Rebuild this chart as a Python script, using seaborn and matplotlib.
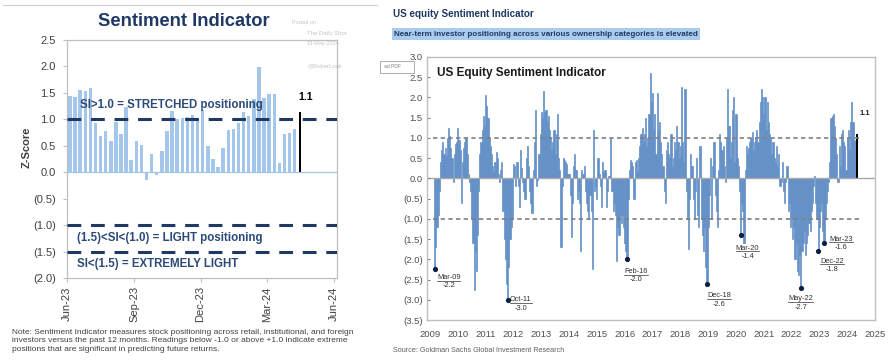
import numpy as np
import pandas as pd
import matplotlib
matplotlib.use("Agg")
import matplotlib.pyplot as plt
import matplotlib.dates as mdates
from matplotlib import font_manager as fm
from matplotlib.lines import Line2D
from matplotlib.patches import Rectangle
import seaborn as sns

# ---------------- data: left panel (weekly Z-score) ----------------
left_start = "2023-06-05"
left_values = [1.45, 1.43, 1.55, 1.53, 1.60, 0.93, 0.69, 0.78, 0.59, 0.95,
               0.73, 1.23, 0.23, 0.59, 0.52, -0.14, 0.35, -0.05, 0.41, 0.77,
               1.15, 1.00, 1.03, 1.05, 1.08, 1.02, 1.18, 0.50, 0.25, 0.10,
               0.46, 0.80, 0.81, 0.93, 1.13, 1.07, 1.39, 1.99, 1.40, 1.48,
               1.48, 0.17, 0.72, 0.75, 0.82]
left_latest_date = "2024-04-15"
left_latest_value = 1.14
left_ticks = ["Jun-23", "Sep-23", "Dec-23", "Mar-24", "Jun-24"]
left_levels = [1.0, -1.0, -1.5]
left_level_texts = ["SI>1.0 = STRETCHED positioning",
                    "(1.5)<SI<(1.0) = LIGHT positioning",
                    "SI<(1.5) = EXTREMELY LIGHT"]

# ---------------- data: right panel (semi-monthly, from Mar-2009) ----------------
si_2009 = [-2.25, -1.7, -1.2, -0.9, -0.3, 0.4, 0.7, 0.9, 0.6, 0.75, 0.55, 1.0, 1.25, 1.05, 0.75, 0.5, -0.1, 0.6, 0.85, 0.9]
si_2010 = [1.25, 0.95, 0.7, -0.6, 0.4, 0.75, 0.9, 1.0, 0.6, 0.1, -0.1, -0.3, -1.0, -1.6, -2.75, -1.8, -2.3, -1.4, -0.3, 0.6, 0.9, 1.2, 1.55, 1.3]
si_2011 = [2.05, 1.8, 1.5, 1.0, 0.8, 0.6, 0.3, 0.15, 0.4, 0.65, 0.5, 0.1, -0.1, 0.2, 0.4, -0.8, -1.5, -2.0, -2.6, -3.0, -2.2, -1.5, -1.2, -1.0]
si_2012 = [0.35, 0.3, -0.2, 0.4, -0.2, -0.7, 0.7, 0.25, -0.1, -0.3, -0.5, 0.5, 0.8, 0.3, -0.3, -0.6, -0.85, 0.2, 0.9, 1.7, -0.2, -0.05, 0.6, 1.1]
si_2013 = [1.65, 1.5, 2.15, 1.65, 1.7, 1.4, 1.55, 1.2, 1.0, 0.7, 0.9, 1.2, 0.6, 1.1, 1.6, 0.5, 0.2, -1.7, -0.2, 0.5, 0.45, 0.4, 0.35, 0.1]
si_2014 = [0.1, -0.4, -1.45, -0.6, 0.3, 0.6, 0.2, -0.5, -0.3, -0.6, -1.8, 0.2, 0.1, 0.3, -0.3, -0.6, -0.8, -1.0, -0.4, -0.8, -2.25, 1.2, -0.3, -0.2]
si_2015 = [-0.5, 0.5, 0.1, -0.2, -0.7, 0.4, 0.15, 0.2, -0.7, -0.3, 0.05, 0.05, 1.0, -0.3, -0.8, -0.6, -0.9, -2.05, -1.2, -1.4, -0.9, -1.1, -0.9, -1.2]
si_2016 = [-1.6, -1.8, -2.0, -0.5, 0.2, 0.45, 0.4, 0.3, -0.5, 0.4, 0.45, 0.15, 0.5, 0.8, 1.1, 1.25, 0.9, 1.1, 1.5, 0.8, 1.0, 1.6, 2.6, 1.9]
si_2017 = [2.1, 1.2, 1.6, 0.6, 2.1, 1.2, 1.4, 0.9, 0.6, 0.3, -0.3, -0.6, 0.7, 0.9, 0.6, 0.5, 1.1, 0.3, 0.5, 0.9, 0.7, 1.3, 0.9, 0.5]
si_2018 = [0.8, 2.25, 0.9, 0.4, 2.2, -0.3, -1.0, -1.75, -0.5, 0.6, 0.3, -0.5, -1.0, -0.3, 0.5, -0.9, -1.2, 0.8, -1.0, -1.4, -1.8, -1.2, -2.2, -2.6]
si_2019 = [-1.2, -0.4, 0.5, -1.0, 0.3, 0.9, -0.4, -0.8, -1.2, 0.2, 1.1, 0.9, 0.7, 0.8, 0.3, -0.1, 1.0, 2.2, 1.3, 0.5, 0.9, 1.7, 2.0, 0.4]
si_2020 = [1.6, 0.5, 0.3, -0.3, -1.4, -0.6, -0.8, -1.6, 0.2, 0.8, 0.6, 0.75, 0.9, 1.0, 1.15, 0.7, 0.9, 1.0, 1.2, 0.9, 1.4, 1.9, 2.2, 2.0]
si_2021 = [1.6, 2.0, 1.2, 1.9, 1.4, 1.1, 1.0, 0.6, 0.9, 0.5, 0.4, 0.8, 0.3, 0.6, -0.2, -0.1, 0.4, -0.3, -0.6, -0.1, 0.3, -0.8, -0.6, -1.2]
si_2022 = [-1.0, -1.5, -1.2, -2.0, -1.6, -2.3, -2.4, -1.9, -2.7, -1.8, -1.6, -1.3, -1.9, -1.6, -1.4, -1.1, -1.3, -0.8, -0.6, -0.2, 0.05, -0.6, -1.0, -1.8]
si_2023 = [-1.2, -0.8, -0.6, -1.3, -1.6, -1.0, -0.6, -0.3, -0.1, 0.4, 1.5, 1.55, 1.6, 1.3, 1.0, 0.6, -0.1, 0.8, 0.3, 1.1, 1.2, 0.9, 0.8, 0.2]
si_2024 = [1.0, 1.2, 0.7, 1.4, 1.9, 1.4, 0.9, 0.95]
si_start, si_end = "2009-03-01", "2024-04-15"
si_latest_date = "2024-05-08"
si_latest_value = 1.1
ann_months = ["2009-03", "2011-10", "2016-02", "2018-12", "2020-03", "2022-05", "2022-12", "2023-03"]
ann_labels = ["Mar-09", "Oct-11", "Feb-16", "Dec-18", "Mar-20", "May-22", "Dec-22", "Mar-23"]
ann_values = ["-2.2", "-3.0", "-2.0", "-2.6", "-1.4", "-2.7", "-1.8", "-1.6"]
year_ticks = list(range(2009, 2026))

# ---------------- styling ----------------
W, H = 893, 360
NAVY = "#1f3864"
LIGHT = "#a3c6ea"
BLUE = "#6390c8"
GRAY_TXT = "#404040"
FRAME = "#bfbfbf"

names = {f.name for f in fm.fontManager.ttflist}
ARIAL = "Liberation Sans" if "Liberation Sans" in names else "DejaVu Sans"
plt.rcParams["font.family"] = [ARIAL, "DejaVu Sans"]

fig = plt.figure(figsize=(W / 100, H / 100), dpi=100)
fig.patch.set_facecolor("white")


def ftext(x, y, s, **kw):
    return fig.text(x / W, 1 - y / H, s, **kw)


def paren(v):
    return f"({abs(v):.1f})" if v < -1e-9 else f"{v:.1f}"


# ================= LEFT PANEL =================
axL = fig.add_axes([67 / W, 1 - 278 / H, 270 / W, 238 / H])
left_dates = pd.date_range(left_start, periods=len(left_values), freq="7D")
df_left = pd.DataFrame({"d": mdates.date2num(left_dates), "si": left_values})
sns.barplot(data=df_left, x="d", y="si", native_scale=True, color=LIGHT,
            saturation=1, width=0.68, linewidth=0, errorbar=None, ax=axL)
df_left_last = pd.DataFrame({"d": [mdates.date2num(pd.Timestamp(left_latest_date))],
                             "si": [left_latest_value]})
sns.barplot(data=df_left_last, x="d", y="si", native_scale=True, color="black",
            saturation=1, width=2.6, linewidth=0, errorbar=None, ax=axL)

axL.set_ylim(-2.0, 2.5)
axL.set_xlim(mdates.date2num(pd.Timestamp("2023-06-01")), mdates.date2num(pd.Timestamp("2024-06-05")))
yt = np.arange(-2.0, 2.51, 0.5)
axL.set_yticks(yt)
axL.set_yticklabels([paren(v) for v in yt])
xt = [mdates.date2num(pd.to_datetime(s, format="%b-%y")) for s in left_ticks]
axL.set_xticks(xt)
axL.set_xticklabels(left_ticks, rotation=90, ha="center", va="top")
axL.tick_params(axis="both", colors=FRAME, labelcolor=GRAY_TXT, labelsize=8, length=3, width=0.8)
axL.tick_params(axis="y", pad=5)
axL.tick_params(axis="x", pad=3)
for s in axL.spines.values():
    s.set_color(FRAME)
    s.set_linewidth(0.9)
axL.set_xlabel("")
axL.set_ylabel("Z-Score", fontsize=8, fontweight="bold", color=GRAY_TXT)
axL.yaxis.set_label_coords(-0.13, 0.55)
axL.axhline(0, color=LIGHT, lw=0.9, zorder=1)
for lvl in left_levels:
    axL.axhline(lvl, color=NAVY, lw=2.2, dashes=(4.5, 3.2), zorder=3)
lvl_style = dict(fontsize=8.3, fontweight="bold", color="#2b4a78", va="center",
                 transform=axL.get_yaxis_transform())
axL.text(0.048, 1.27, left_level_texts[0], **lvl_style)
axL.text(0.038, -1.25, left_level_texts[1], **lvl_style)
axL.text(0.038, -1.73, left_level_texts[2], **lvl_style)
axL.annotate(f"{left_latest_value:.1f}", xy=(mdates.date2num(pd.Timestamp(left_latest_date)), left_latest_value),
             xytext=(6, 10), textcoords="offset pixels", ha="center", va="bottom",
             fontsize=7.5, fontweight="bold", color="black")

# title, watermark, note
ftext(184, 21, "Sentiment Indicator", fontsize=13.2, fontweight="bold", color=NAVY,
      ha="center", va="center")
wm = "#c4c4c4"
ftext(292, 23, "Posted on", fontsize=3.8, color=wm, va="center")
ftext(307, 33, "The Daily Shot", fontsize=4.3, color=wm, va="center")
ftext(307, 43, "13-May-2024", fontsize=4.0, color=wm, va="center")
ftext(307, 66, "@SoberLook", fontsize=4.3, color=wm, va="center")
ftext(12, 341, "Note: Sentiment Indicator measures stock positioning across retail, institutional, and foreign\n"
               "investors versus the past 12 months. Readings below -1.0 or above +1.0 indicate extreme\n"
               "positions that are significant in predicting future returns.",
      fontsize=6.05, color=GRAY_TXT, va="center", linespacing=1.32)
fig.add_artist(Line2D([3 / W, 377 / W], [1 - 5 / H, 1 - 5 / H], color="#d0d0d0", lw=0.8,
                      transform=fig.transFigure))

# ================= RIGHT PANEL =================
axR = fig.add_axes([427 / W, 1 - 320 / H, 448 / W, 263 / H])
si_values = (si_2009 + si_2010 + si_2011 + si_2012 + si_2013 + si_2014 + si_2015 + si_2016 +
             si_2017 + si_2018 + si_2019 + si_2020 + si_2021 + si_2022 + si_2023 + si_2024)
si_dates = pd.date_range(si_start, si_end, freq="SMS")
t_vals = si_dates.year + (si_dates.month - 1) / 12 + (si_dates.day > 1) / 24
df_right = pd.DataFrame({"t": np.round(t_vals, 5), "si": si_values, "date": si_dates})
sns.barplot(data=df_right, x="t", y="si", native_scale=True, color=BLUE,
            saturation=1, width=1.0, linewidth=0.5, edgecolor=BLUE, errorbar=None, ax=axR)
lt = pd.Timestamp(si_latest_date)
t_last = lt.year + (lt.dayofyear - 1) / 365.25
df_right_last = pd.DataFrame({"t": [t_last], "si": [si_latest_value]})
sns.barplot(data=df_right_last, x="t", y="si", native_scale=True, color="black",
            saturation=1, width=0.085, linewidth=0, errorbar=None, ax=axR)

axR.set_xlim(2008.89, 2025.0)
axR.set_ylim(-3.5, 3.0)
axR.axhline(0, color="#a8a8a8", lw=1.0, zorder=1)
axR.hlines([1.0, -1.0], 2009.1, 2024.45, colors="#7f7f7f", lw=1.2, linestyles=(0, (2.6, 2.0)), zorder=3)

# annotated troughs
ann_t, ann_v = [], []
for m in ann_months:
    sub = df_right[df_right["date"].dt.strftime("%Y-%m") == m]
    row = sub.loc[sub["si"].idxmin()]
    ann_t.append(row["t"])
    ann_v.append(row["si"])
sns.scatterplot(x=ann_t, y=ann_v, color="#0b1e3f", s=14, linewidth=0, zorder=6, ax=axR)
label_offsets = [(14, 8), (13, 0), (9, 12), (12, 12), (7, 13), (0, 11), (14, 10), (17, -4)]
under = []
for tx, ty, lab, val, (dx, dy) in zip(ann_t, ann_v, ann_labels, ann_values, label_offsets):
    a = axR.annotate(lab, xy=(tx, ty), xytext=(dx, -dy), textcoords="offset pixels",
                     ha="center", va="center", fontsize=5.3, color="#303030")
    axR.annotate(val, xy=(tx, ty), xytext=(dx, -dy - 8.5), textcoords="offset pixels",
                 ha="center", va="center", fontsize=5.3, color="#303030")
    under.append(a)
axR.annotate(f"{si_latest_value:.1f}", xy=(t_last, si_latest_value), xytext=(8, 20),
             textcoords="offset pixels", ha="center", va="center", fontsize=5.5,
             fontweight="bold", color="#202020")

axR.set_yticks(np.arange(-3.5, 3.01, 0.5))
axR.set_yticklabels([paren(v) for v in np.arange(-3.5, 3.01, 0.5)])
axR.set_xticks(year_ticks)
axR.set_xticklabels([str(y) for y in year_ticks])
axR.tick_params(axis="y", length=2, direction="in", colors="#808080", labelcolor="#505050", labelsize=6.8, pad=3)
axR.tick_params(axis="x", length=0, labelcolor="#505050", labelsize=6.8, pad=7)
axR.set_xlabel("")
axR.set_ylabel("")
for s in axR.spines.values():
    s.set_color(FRAME)
    s.set_linewidth(1.0)
axR.text(0.022, 0.94, "US Equity Sentiment Indicator", transform=axR.transAxes,
         fontsize=8.5, fontweight="bold", color="#1a1a1a", va="center")

ftext(393, 14, "US equity Sentiment Indicator", fontsize=7.1, fontweight="bold", color=NAVY, va="center")
ftext(394, 34, "Near-term investor positioning across various ownership categories is elevated",
      fontsize=5.8, fontweight="bold", color=NAVY, va="center",
      bbox=dict(boxstyle="square,pad=0.3", facecolor="#a9cbec", edgecolor="none"))
ftext(393, 350, "Source: Goldman Sachs Global Investment Research", fontsize=5.2, color="#606060", va="center")
fig.add_artist(Rectangle((380 / W, 1 - 73 / H), 34 / W, 12 / H, transform=fig.transFigure,
                         facecolor="white", edgecolor="#a0a0a0", lw=0.6))
ftext(384, 67, "ad PDF", fontsize=3.6, color="#808080", va="center")

# underline trough labels
fig.canvas.draw()
rend = fig.canvas.get_renderer()
for a in under:
    bb = a.get_window_extent(renderer=rend)
    yy = bb.y0 + 0.3
    fig.add_artist(Line2D([bb.x0 / W, bb.x1 / W], [yy / H, yy / H], color="#303030", lw=0.5,
                          transform=fig.transFigure))

fig.savefig("out.png", dpi=100, facecolor="white")
